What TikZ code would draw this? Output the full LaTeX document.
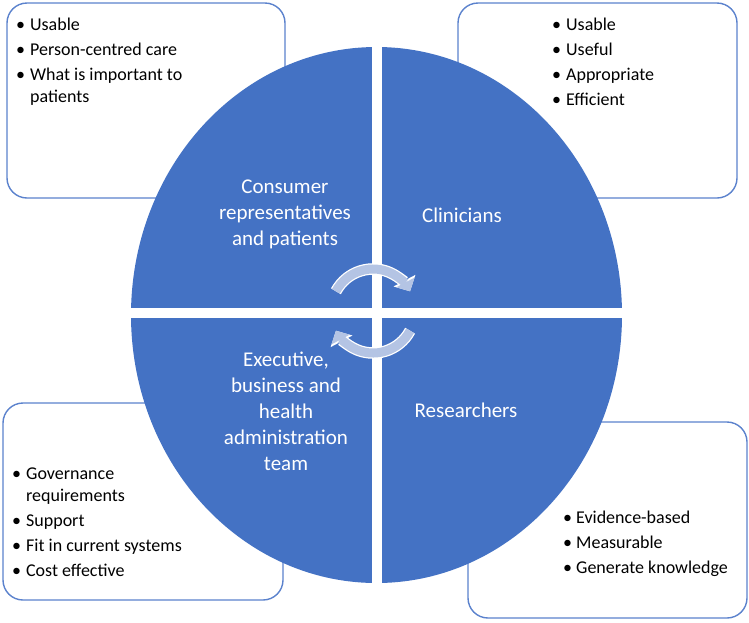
\documentclass[tikz,border=0pt]{standalone}
\usepackage{fontspec}
\setmainfont{Carlito}
\usepackage{tikz}
\usetikzlibrary{arrows.meta}
\definecolor{ringblue}{RGB}{68,114,196}
\definecolor{boxline}{RGB}{91,130,205}
\definecolor{cyclearrow}{RGB}{180,196,228}

\begin{document}
\begin{tikzpicture}[x=1pt, y=-1pt,
    listbox/.style={draw=boxline, line width=1.4pt, fill=white, rounded corners=20pt},
    quadtext/.style={text=white, align=center, inner sep=0pt, font=\fontsize{21}{26}\selectfont},
    bullets/.style={anchor=base west, inner sep=0pt, font=\fontsize{18}{22}\selectfont},
    cyclearc/.style={draw=cyclearrow, line width=9pt, -{Triangle[length=10pt,width=20pt]},
      preaction={draw=white, line width=11.5pt, -{Triangle[length=12pt,width=24pt]}}}]
\useasboundingbox (0,0) rectangle (749,622);

% Consumer box
\draw[listbox] (7,3) rectangle (285,198);
\node[bullets] (consumerlist) at (16,30) {\begin{tabular}[t]{@{}l@{\hspace{5pt}}l@{}}
  \textbullet & Usable\\[3pt]
  \textbullet & Person-centred care\\[3pt]
  \textbullet & What is important to\\
              & patients
\end{tabular}};

% Clinician box
\draw[listbox] (458,3) rectangle (737,198);
\node[bullets] (clinicianlist) at (552,30) {\begin{tabular}[t]{@{}l@{\hspace{5pt}}l@{}}
  \textbullet & Usable\\[3pt]
  \textbullet & Useful\\[3pt]
  \textbullet & Appropriate\\[3pt]
  \textbullet & Efficient
\end{tabular}};

% Executive box
\draw[listbox] (3,403) rectangle (283,600);
\node[bullets] (executivelist) at (12,479) {\begin{tabular}[t]{@{}l@{\hspace{5pt}}l@{}}
  \textbullet & Governance\\
              & requirements\\[3pt]
  \textbullet & Support\\[3pt]
  \textbullet & Fit in current systems\\[3pt]
  \textbullet & Cost effective
\end{tabular}};

% Researcher box
\draw[listbox] (468,422) rectangle (747,618);
\node[bullets] (researcherlist) at (563,523) {\begin{tabular}[t]{@{}l@{\hspace{4pt}}l@{}}
  \textbullet & Evidence-based\\[3pt]
  \textbullet & Measurable\\[3pt]
  \textbullet & Generate knowledge
\end{tabular}};

% Circle in four quarters
\fill[ringblue] (376.5,315) ellipse [x radius=245.5, y radius=268];
\fill[white] (372,40) rectangle (382,590);
\fill[white] (120,308) rectangle (630,318);

% Quarter labels
\node[quadtext] (consumers) at (285,214) {Consumer\\representatives\\and patients};
\node[quadtext] (clinicians) at (462,215) {Clinicians};
\node[quadtext] (executive) at (286,411) {Executive,\\business and\\health\\administration\\team};
\node[quadtext] (researchers) at (466,410) {Researchers};

% Cycle arrows
\coordinate (hub) at (373,311);
\draw[cyclearc] ([shift={(-152:42)}]hub) arc[start angle=-152, end angle=-28, radius=42];
\draw[cyclearc] ([shift={(28:42)}]hub) arc[start angle=28, end angle=152, radius=42];
\end{tikzpicture}
\end{document}
